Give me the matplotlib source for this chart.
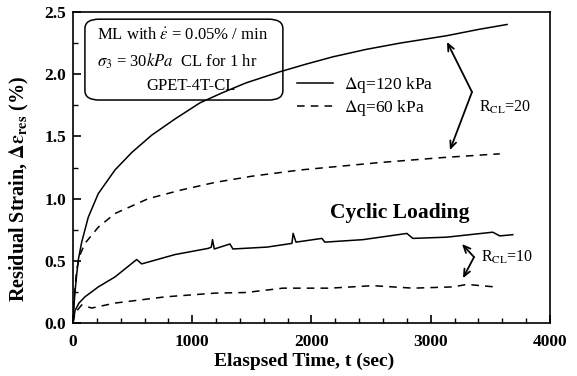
"""Residual strain vs elapsed time under cyclic loading (GPET-4T-CL)."""

import matplotlib

matplotlib.use("Agg")

import matplotlib.pyplot as plt  # noqa: E402
from matplotlib.patches import FancyBboxPatch  # noqa: E402
from matplotlib.ticker import MultipleLocator  # noqa: E402

plt.rcParams["font.family"] = ["Liberation Serif", "DejaVu Serif"]
plt.rcParams["mathtext.fontset"] = "stix"

# dq = 120 kPa, R_CL = 20
t_120_r20 = [0, 8, 17, 30, 45, 73, 128, 212, 352, 492, 660, 855, 1065, 1250, 1450, 1736,
             1950, 2180, 2460, 2742, 3136, 3400, 3640]
e_120_r20 = [0, 0.14, 0.25, 0.38, 0.51, 0.65, 0.85, 1.04, 1.23, 1.37, 1.51, 1.64, 1.77, 1.85, 1.93,
             2.02, 2.08, 2.14, 2.20, 2.25, 2.31, 2.36, 2.40]

# dq = 60 kPa, R_CL = 20
t_60_r20 = [0, 10, 31, 60, 100, 212, 352, 632, 911, 1190, 1500, 1903, 2573, 3100, 3579]
e_60_r20 = [0, 0.20, 0.43, 0.55, 0.64, 0.77, 0.88, 1.00, 1.07, 1.13, 1.18, 1.23, 1.29, 1.33, 1.36]

# dq = 120 kPa, R_CL = 10
t_120_r10 = [0, 17, 50, 100, 212, 352, 534, 576, 855, 1135, 1160, 1170, 1185, 1316, 1341, 1626,
             1836, 1846, 1870, 2087, 2112, 2431, 2800, 2850, 3135, 3520, 3579, 3688]
e_120_r10 = [0.0, 0.10, 0.16, 0.21, 0.29, 0.37, 0.51, 0.475, 0.55, 0.60, 0.61, 0.67, 0.595, 0.635,
             0.595, 0.61, 0.64, 0.72, 0.65, 0.68, 0.65, 0.67, 0.72, 0.68, 0.69, 0.73, 0.70, 0.71]

# dq = 60 kPa, R_CL = 10
t_60_r10 = [0, 17, 73, 157, 352, 771, 1190, 1450, 1760, 2154, 2515, 2850, 3185, 3303, 3537]
e_60_r10 = [0, 0.08, 0.145, 0.12, 0.16, 0.21, 0.24, 0.245, 0.28, 0.28, 0.30, 0.28, 0.29, 0.31, 0.29]

fig = plt.figure(figsize=(5.77, 3.76), dpi=100)
ax = fig.add_axes([0.1265, 0.141, 0.8267, 0.827])

lw = 1.1
dash = (0, (5, 4))
l120, = ax.plot(t_120_r20, e_120_r20, color="black", lw=lw, label=r"$\Delta$q=120 kPa")
l60, = ax.plot(t_60_r20, e_60_r20, color="black", lw=lw, ls=dash, label=r"$\Delta$q=60 kPa")
ax.plot(t_120_r10, e_120_r10, color="black", lw=lw)
ax.plot(t_60_r10, e_60_r10, color="black", lw=lw, ls=dash)

ax.set_xlim(0, 4000)
ax.set_ylim(0, 2.5)
ax.xaxis.set_major_locator(MultipleLocator(1000))
ax.xaxis.set_minor_locator(MultipleLocator(200))
ax.yaxis.set_major_locator(MultipleLocator(0.5))
ax.yaxis.set_minor_locator(MultipleLocator(0.25))
ax.yaxis.set_major_formatter(lambda v, p: f"{v:.1f}")
ax.tick_params(which="both", direction="in", top=False, right=False)
ax.tick_params(which="major", length=6, width=1.2, labelsize=12.5, pad=5)
ax.tick_params(axis="x", which="major", pad=8)
ax.tick_params(which="minor", length=3.5, width=1.0)
for lab in ax.get_xticklabels() + ax.get_yticklabels():
    lab.set_fontweight("bold")
for s in ax.spines.values():
    s.set_linewidth(1.2)

ax.set_xlabel("Elaspsed Time, t (sec)", fontsize=14, fontweight="bold", labelpad=2)
ax.xaxis.label.set_x(0.484)
ax.set_ylabel(r"Residual Strain, $\mathbf{\Delta\varepsilon_{res}}$ (%)", fontsize=14.5,
              fontweight="bold")
ax.yaxis.set_label_coords(-0.088, 0.43)

# info box
box = FancyBboxPatch((0.025, 0.717), 0.415, 0.26, transform=ax.transAxes,
                     boxstyle="round,pad=0,rounding_size=0.03", fc="white", ec="black", lw=1.1)
ax.add_patch(box)
ax.text(0.05, 0.926, r"ML with $\dot{\epsilon}$ = 0.05% / min", transform=ax.transAxes,
        fontsize=12, va="center")
ax.text(0.05, 0.842, r"$\sigma_3$ = 30$kPa$  CL for 1 hr", transform=ax.transAxes,
        fontsize=12, va="center")
ax.text(0.247, 0.762, "GPET-4T-CL", transform=ax.transAxes, fontsize=12,
        va="center", ha="center")

ax.legend(handles=[l120, l60], loc="upper left", bbox_to_anchor=(0.455, 0.82),
          frameon=False, fontsize=12.5, handlelength=2.1, handletextpad=0.6,
          labelspacing=0.2, borderaxespad=0)

ax.text(0.685, 0.355, "Cyclic Loading", transform=ax.transAxes, fontsize=15.5,
        fontweight="bold", ha="center", va="center")

arrow = dict(arrowstyle="->,head_length=0.5,head_width=0.22", color="black", lw=1.3,
             shrinkA=0, shrinkB=0)
ax.annotate("", xy=(3136, 2.26), xytext=(3346, 1.857), arrowprops=arrow)
ax.annotate("", xy=(3161, 1.39), xytext=(3346, 1.857), arrowprops=arrow)
ax.text(3405, 1.73, r"R$_\mathrm{CL}$=20", fontsize=11.5, va="center")
ax.annotate("", xy=(3262, 0.635), xytext=(3363, 0.53), arrowprops=arrow)
ax.annotate("", xy=(3270, 0.36), xytext=(3363, 0.53), arrowprops=arrow)
ax.text(3421, 0.53, r"R$_\mathrm{CL}$=10", fontsize=11.5, va="center")

fig.savefig("out.png", dpi=100)
plt.close(fig)
